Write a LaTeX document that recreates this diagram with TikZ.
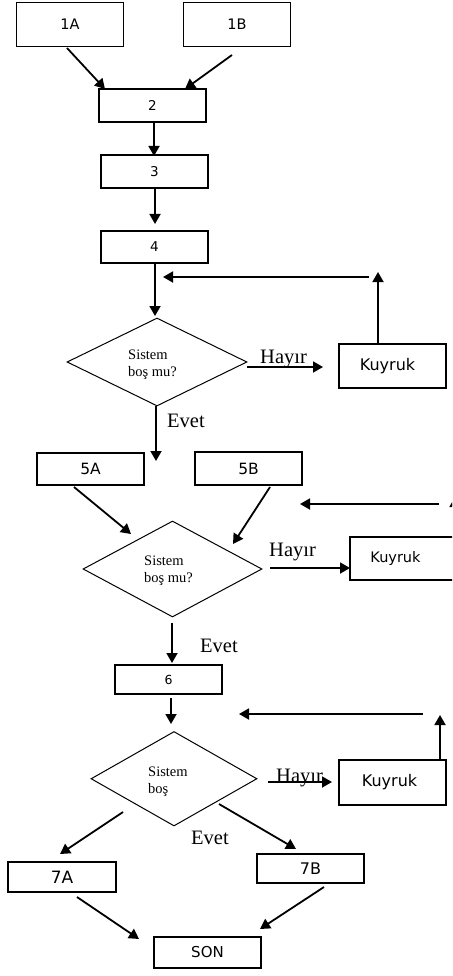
\documentclass[tikz,border=0pt]{standalone}
\usepackage{fontspec}
\setmainfont{Liberation Serif}
\newfontfamily\boxfont{DejaVu Sans}
\usetikzlibrary{arrows.meta,shapes.geometric}
\begin{document}
\begin{tikzpicture}[x=1pt,y=-1pt,
  box/.style={draw, line width=1.4pt, inner sep=0pt, minimum width=107pt, font=\boxfont\fontsize{#1}{#1}\selectfont},
  box/.default=14,
  dia/.style={draw, diamond, line width=1pt, inner sep=0pt},
  arr/.style={line width=1.8pt, -{Triangle[length=10pt,width=11pt]}},
  lab/.style={anchor=base west, inner sep=0pt, font=\fontsize{20.5}{24}\selectfont},
  dtxt/.style={anchor=north west, inner sep=0pt, align=left, font=\fontsize{14.5}{17}\selectfont}]
\useasboundingbox (0,0) rectangle (452,976);
\clip (0,0) rectangle (452,976);
\fill[white] (0,0) rectangle (452,976);

% boxes
\node[box=14.5, minimum height=44pt] (n1a) at (70,24.5) {1A};
\node[box=14.5, minimum height=44pt] (n1b) at (237,24.5) {1B};
\node[box=13.5, minimum height=33pt] (n2) at (152.5,105.5) {2};
\node[box=13.5, minimum height=33pt] (n3) at (154.5,171.5) {3};
\node[box=13.5, minimum height=32pt] (n4) at (154.5,247) {4};
\node[box=16, minimum height=44pt] (k1) at (392.5,366) {Kuyruk\hspace*{10pt}};
\node[box=15.5, minimum height=32pt] (n5a) at (90.5,469) {5A};
\node[box=15.5, minimum height=33pt] (n5b) at (248.5,468.5) {5B};
\node[box=14.5, minimum height=43pt] (k2) at (403.5,558.5) {Kuyruk\hspace*{16pt}};
\node[box=12.5, minimum height=29pt] (n6) at (168.5,679.5) {6};
\node[box=16, minimum height=45pt] (k3) at (392.5,782.5) {Kuyruk\hspace*{6pt}};
\node[box=17, minimum width=108pt, minimum height=30pt] (n7a) at (62,877) {7A};
\node[box=16, minimum height=29pt] (n7b) at (310.5,868.5) {7B};
\node[box=15, minimum height=31pt] (son) at (207.5,952.5) {SON};

% decisions
\node[dia, minimum width=180pt, minimum height=88pt] (d1) at (157,362) {};
\node[dia, minimum width=179pt, minimum height=96pt] (d2) at (172.5,569) {};
\node[dia, minimum width=166pt, minimum height=94.5pt] (d3) at (174,778.75) {};
\node[dtxt] (t1) at (128,350) {Sistem\\boş mu?};
\node[dtxt] (t2) at (144,556) {Sistem\\boş mu?};
\node[dtxt] (t3) at (148,767) {Sistem\\boş};

% labels
\node[lab] (h1) at (260,363) {Hayır};
\node[lab] (e1) at (167,427) {Evet};
\node[lab] (h2) at (269,556) {Hayır};
\node[lab] (e2) at (200,652) {Evet};
\node[lab] (h3) at (276,782) {Hayır};
\node[lab] (e3) at (191,844) {Evet};

% connector end points
\coordinate (a1s) at (67,48);   \coordinate (a1e) at (105,89);
\coordinate (a2s) at (232,55);  \coordinate (a2e) at (185,89);
\coordinate (a3s) at (154,122); \coordinate (a3e) at (154,156);
\coordinate (a4s) at (155,189); \coordinate (a4e) at (155,224);
\coordinate (a5s) at (155,263); \coordinate (a5e) at (155,316);
\coordinate (f1v) at (378,272); \coordinate (f1s) at (369,277); \coordinate (f1e) at (163,277);
\coordinate (h1s) at (247,367); \coordinate (h1e) at (323,367);
\coordinate (a6s) at (156,406); \coordinate (a6e) at (156,461);
\coordinate (a7s) at (74,487);  \coordinate (a7e) at (131,534);
\coordinate (a8s) at (270,487); \coordinate (a8e) at (233,544);
\coordinate (f2s) at (439,504); \coordinate (f2e) at (300,504);
\coordinate (f2b) at (455,537); \coordinate (f2v) at (455,497);
\coordinate (h2s) at (270,568); \coordinate (h2e) at (350,568);
\coordinate (a9s) at (172,623); \coordinate (a9e) at (172,663);
\coordinate (a10s) at (171,698); \coordinate (a10e) at (171,724);
\coordinate (f3b) at (440,760); \coordinate (f3v) at (440,715);
\coordinate (f3s) at (423,714); \coordinate (f3e) at (239,714);
\coordinate (h3s) at (268,782); \coordinate (h3e) at (332,782);
\coordinate (a11s) at (123,812); \coordinate (a11e) at (60,854);
\coordinate (a12s) at (219,804); \coordinate (a12e) at (296,849);
\coordinate (a13s) at (77,897);  \coordinate (a13e) at (139,939);
\coordinate (a14s) at (324,887); \coordinate (a14e) at (260,929);

% connectors
\draw[arr] (a1s) -- (a1e);
\draw[arr] (a2s) -- (a2e);
\draw[arr] (a3s) -- (a3e);
\draw[arr] (a4s) -- (a4e);
\draw[arr] (a5s) -- (a5e);
\draw[arr] (k1.north -| f1v) -- (f1v);
\draw[arr] (f1s) -- (f1e);
\draw[arr] (h1s) -- (h1e);
\draw[arr] (a6s) -- (a6e);
\draw[arr] (a7s) -- (a7e);
\draw[arr] (a8s) -- (a8e);
\draw[arr] (f2s) -- (f2e);
\draw[arr] (f2b) -- (f2v);
\draw[arr] (h2s) -- (h2e);
\draw[arr] (a9s) -- (a9e);
\draw[arr] (a10s) -- (a10e);
\draw[arr] (f3b) -- (f3v);
\draw[arr] (f3s) -- (f3e);
\draw[arr] (h3s) -- (h3e);
\draw[arr] (a11s) -- (a11e);
\draw[arr] (a12s) -- (a12e);
\draw[arr] (a13s) -- (a13e);
\draw[arr] (a14s) -- (a14e);
\end{tikzpicture}
\end{document}
